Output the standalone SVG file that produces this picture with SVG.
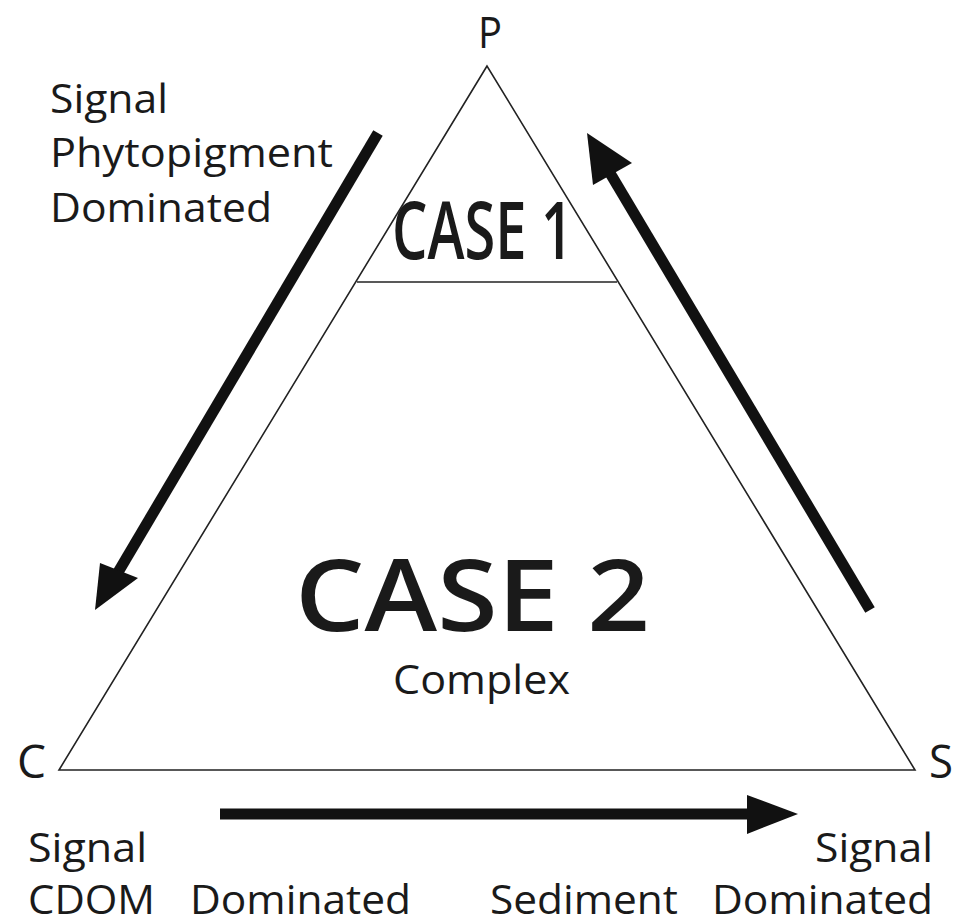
<svg xmlns="http://www.w3.org/2000/svg" width="958" height="921" viewBox="0 0 958 921">
<style>
text{font-family:"Open Sans","Noto Sans","Liberation Sans",sans-serif;fill:#1a1a1a}
.lbl{font-size:41px}
.big{font-weight:600}
.edge{fill:none;stroke:#222;stroke-width:1.6}
.arr{fill:none;stroke:#111;stroke-width:11}
.head{fill:#111}
</style>
<rect width="958" height="921" fill="#fff"/>
<g id="triangle">
<polygon class="edge" points="487,66 59,770 915,770"/>
<line class="edge" x1="357" y1="282" x2="617" y2="282"/>
</g>
<g id="vertex-P"><text x="478" y="48" font-size="44" textLength="24" lengthAdjust="spacingAndGlyphs">P</text></g>
<g id="vertex-C"><text x="17" y="778" font-size="46" textLength="29" lengthAdjust="spacingAndGlyphs">C</text></g>
<g id="vertex-S"><text x="929" y="778" font-size="46" textLength="24" lengthAdjust="spacingAndGlyphs">S</text></g>
<g id="case1"><text class="big" x="392" y="259" font-size="80" textLength="181" lengthAdjust="spacingAndGlyphs">CASE 1</text></g>
<g id="case2">
<text class="big" x="295" y="631" font-size="100" textLength="355" lengthAdjust="spacingAndGlyphs">CASE 2</text>
<text x="393" y="694" font-size="41" textLength="177" lengthAdjust="spacingAndGlyphs">Complex</text>
</g>
<g id="label-phyto">
<text class="lbl" x="50" y="113" textLength="118" lengthAdjust="spacingAndGlyphs">Signal</text>
<text class="lbl" x="50" y="167" textLength="283" lengthAdjust="spacingAndGlyphs">Phytopigment</text>
<text class="lbl" x="50" y="222" textLength="222" lengthAdjust="spacingAndGlyphs">Dominated</text>
</g>
<g id="label-cdom">
<text class="lbl" x="28" y="862" textLength="119" lengthAdjust="spacingAndGlyphs">Signal</text>
<text class="lbl" x="28" y="914" textLength="127" lengthAdjust="spacingAndGlyphs">CDOM</text>
<text class="lbl" x="190" y="914" textLength="221" lengthAdjust="spacingAndGlyphs">Dominated</text>
</g>
<g id="label-sediment">
<text class="lbl" x="815" y="862" textLength="118" lengthAdjust="spacingAndGlyphs">Signal</text>
<text class="lbl" x="490" y="914" textLength="188" lengthAdjust="spacingAndGlyphs">Sediment</text>
<text class="lbl" x="712" y="914" textLength="221" lengthAdjust="spacingAndGlyphs">Dominated</text>
</g>
<g id="connectors">
<line class="arr" x1="378" y1="133" x2="117" y2="574"/>
<polygon class="head" points="95,610 100,563 138,578"/>
<line class="arr" x1="870" y1="610" x2="607" y2="168"/>
<polygon class="head" points="587,133 593,185 632,163"/>
<line class="arr" x1="220" y1="814" x2="760" y2="814"/>
<polygon class="head" points="798,814 747,795 747,834"/>
</g>
</svg>
